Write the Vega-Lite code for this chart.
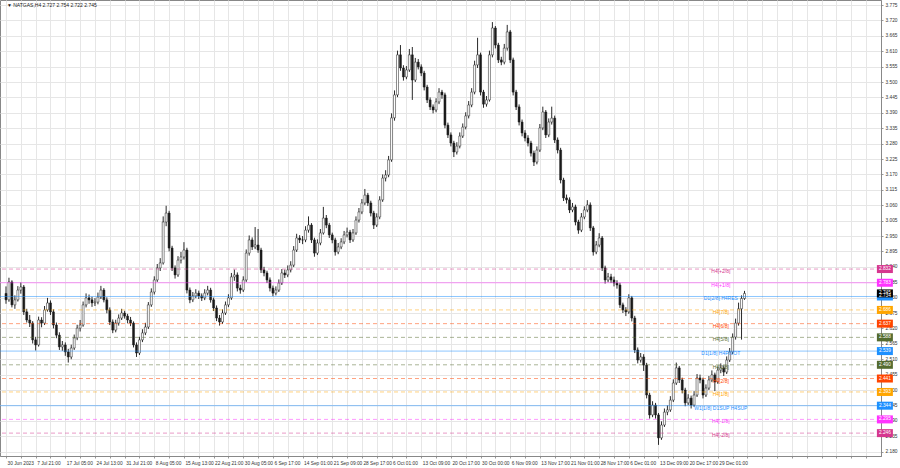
{
"$schema":"https://vega.github.io/schema/vega-lite/v6.json",
"width":881,"height":456,
"autosize":{"type":"none"},
"padding":{"left":0,"top":0,"right":19,"bottom":12},
"background":"#ffffff",
"config":{"view":{"stroke":"#888888","strokeWidth":1},"font":"Liberation Sans",
"axis":{"grid":true,"gridColor":"#e6e6e6","gridWidth":1,"labelFontSize":4.8,"labelColor":"#333333","labelFont":"Liberation Sans","labelOverlap":false,"labelFlush":false,"labelBound":false,"tickSize":2,"tickColor":"#999999","domainColor":"#888888","title":null}},
"datasets":{
"candles":[
{"i":0,"o":2.745,"h":2.770,"l":2.708,"c":2.722},
{"i":1,"o":2.722,"h":2.801,"l":2.715,"c":2.786},
{"i":2,"o":2.786,"h":2.792,"l":2.695,"c":2.704},
{"i":3,"o":2.704,"h":2.738,"l":2.690,"c":2.722},
{"i":4,"o":2.722,"h":2.771,"l":2.716,"c":2.757},
{"i":5,"o":2.757,"h":2.784,"l":2.744,"c":2.768},
{"i":6,"o":2.768,"h":2.775,"l":2.668,"c":2.679},
{"i":7,"o":2.679,"h":2.690,"l":2.641,"c":2.650},
{"i":8,"o":2.650,"h":2.668,"l":2.625,"c":2.639},
{"i":9,"o":2.639,"h":2.646,"l":2.566,"c":2.579},
{"i":10,"o":2.579,"h":2.590,"l":2.541,"c":2.561},
{"i":11,"o":2.561,"h":2.662,"l":2.555,"c":2.650},
{"i":12,"o":2.650,"h":2.660,"l":2.624,"c":2.639},
{"i":13,"o":2.639,"h":2.700,"l":2.632,"c":2.686},
{"i":14,"o":2.686,"h":2.729,"l":2.680,"c":2.711},
{"i":15,"o":2.711,"h":2.720,"l":2.668,"c":2.679},
{"i":16,"o":2.679,"h":2.688,"l":2.620,"c":2.632},
{"i":17,"o":2.632,"h":2.641,"l":2.585,"c":2.596},
{"i":18,"o":2.596,"h":2.606,"l":2.543,"c":2.554},
{"i":19,"o":2.554,"h":2.575,"l":2.540,"c":2.561},
{"i":20,"o":2.561,"h":2.570,"l":2.522,"c":2.536},
{"i":21,"o":2.536,"h":2.547,"l":2.498,"c":2.518},
{"i":22,"o":2.518,"h":2.562,"l":2.510,"c":2.550},
{"i":23,"o":2.550,"h":2.598,"l":2.543,"c":2.586},
{"i":24,"o":2.586,"h":2.633,"l":2.578,"c":2.621},
{"i":25,"o":2.621,"h":2.650,"l":2.609,"c":2.632},
{"i":26,"o":2.632,"h":2.716,"l":2.626,"c":2.704},
{"i":27,"o":2.704,"h":2.745,"l":2.695,"c":2.729},
{"i":28,"o":2.729,"h":2.741,"l":2.708,"c":2.722},
{"i":29,"o":2.722,"h":2.733,"l":2.697,"c":2.711},
{"i":30,"o":2.711,"h":2.728,"l":2.700,"c":2.714},
{"i":31,"o":2.714,"h":2.748,"l":2.706,"c":2.732},
{"i":32,"o":2.732,"h":2.772,"l":2.725,"c":2.757},
{"i":33,"o":2.757,"h":2.764,"l":2.713,"c":2.722},
{"i":34,"o":2.722,"h":2.731,"l":2.674,"c":2.686},
{"i":35,"o":2.686,"h":2.695,"l":2.632,"c":2.643},
{"i":36,"o":2.643,"h":2.652,"l":2.603,"c":2.614},
{"i":37,"o":2.614,"h":2.651,"l":2.606,"c":2.639},
{"i":38,"o":2.639,"h":2.670,"l":2.630,"c":2.657},
{"i":39,"o":2.657,"h":2.690,"l":2.650,"c":2.675},
{"i":40,"o":2.675,"h":2.683,"l":2.655,"c":2.664},
{"i":41,"o":2.664,"h":2.672,"l":2.638,"c":2.650},
{"i":42,"o":2.650,"h":2.661,"l":2.628,"c":2.639},
{"i":43,"o":2.639,"h":2.645,"l":2.552,"c":2.561},
{"i":44,"o":2.561,"h":2.570,"l":2.518,"c":2.532},
{"i":45,"o":2.532,"h":2.590,"l":2.525,"c":2.579},
{"i":46,"o":2.579,"h":2.617,"l":2.571,"c":2.604},
{"i":47,"o":2.604,"h":2.640,"l":2.596,"c":2.625},
{"i":48,"o":2.625,"h":2.714,"l":2.618,"c":2.704},
{"i":49,"o":2.704,"h":2.763,"l":2.697,"c":2.750},
{"i":50,"o":2.750,"h":2.806,"l":2.741,"c":2.793},
{"i":51,"o":2.793,"h":2.850,"l":2.786,"c":2.836},
{"i":52,"o":2.836,"h":2.871,"l":2.825,"c":2.854},
{"i":53,"o":2.854,"h":3.020,"l":2.848,"c":3.000},
{"i":54,"o":3.000,"h":3.058,"l":2.985,"c":3.032},
{"i":55,"o":3.032,"h":3.040,"l":2.895,"c":2.907},
{"i":56,"o":2.907,"h":2.915,"l":2.825,"c":2.836},
{"i":57,"o":2.836,"h":2.845,"l":2.798,"c":2.811},
{"i":58,"o":2.811,"h":2.878,"l":2.804,"c":2.864},
{"i":59,"o":2.864,"h":2.893,"l":2.852,"c":2.875},
{"i":60,"o":2.875,"h":2.928,"l":2.866,"c":2.900},
{"i":61,"o":2.900,"h":2.908,"l":2.745,"c":2.757},
{"i":62,"o":2.757,"h":2.766,"l":2.710,"c":2.722},
{"i":63,"o":2.722,"h":2.750,"l":2.714,"c":2.736},
{"i":64,"o":2.736,"h":2.760,"l":2.728,"c":2.746},
{"i":65,"o":2.746,"h":2.755,"l":2.725,"c":2.736},
{"i":66,"o":2.736,"h":2.745,"l":2.718,"c":2.729},
{"i":67,"o":2.729,"h":2.760,"l":2.721,"c":2.746},
{"i":68,"o":2.746,"h":2.772,"l":2.738,"c":2.757},
{"i":69,"o":2.757,"h":2.765,"l":2.712,"c":2.722},
{"i":70,"o":2.722,"h":2.730,"l":2.682,"c":2.693},
{"i":71,"o":2.693,"h":2.702,"l":2.646,"c":2.657},
{"i":72,"o":2.657,"h":2.668,"l":2.630,"c":2.643},
{"i":73,"o":2.643,"h":2.688,"l":2.636,"c":2.675},
{"i":74,"o":2.675,"h":2.716,"l":2.668,"c":2.704},
{"i":75,"o":2.704,"h":2.742,"l":2.696,"c":2.729},
{"i":76,"o":2.729,"h":2.818,"l":2.722,"c":2.804},
{"i":77,"o":2.804,"h":2.830,"l":2.790,"c":2.811},
{"i":78,"o":2.811,"h":2.820,"l":2.752,"c":2.764},
{"i":79,"o":2.764,"h":2.776,"l":2.744,"c":2.757},
{"i":80,"o":2.757,"h":2.806,"l":2.750,"c":2.793},
{"i":81,"o":2.793,"h":2.902,"l":2.786,"c":2.889},
{"i":82,"o":2.889,"h":2.952,"l":2.880,"c":2.936},
{"i":83,"o":2.936,"h":2.945,"l":2.900,"c":2.911},
{"i":84,"o":2.911,"h":2.982,"l":2.903,"c":2.918},
{"i":85,"o":2.918,"h":2.975,"l":2.890,"c":2.900},
{"i":86,"o":2.900,"h":2.908,"l":2.818,"c":2.829},
{"i":87,"o":2.829,"h":2.840,"l":2.806,"c":2.818},
{"i":88,"o":2.818,"h":2.826,"l":2.782,"c":2.793},
{"i":89,"o":2.793,"h":2.802,"l":2.752,"c":2.764},
{"i":90,"o":2.764,"h":2.773,"l":2.735,"c":2.746},
{"i":91,"o":2.746,"h":2.770,"l":2.738,"c":2.757},
{"i":92,"o":2.757,"h":2.795,"l":2.750,"c":2.782},
{"i":93,"o":2.782,"h":2.832,"l":2.775,"c":2.818},
{"i":94,"o":2.818,"h":2.830,"l":2.800,"c":2.811},
{"i":95,"o":2.811,"h":2.845,"l":2.803,"c":2.829},
{"i":96,"o":2.829,"h":2.860,"l":2.820,"c":2.846},
{"i":97,"o":2.846,"h":2.914,"l":2.839,"c":2.900},
{"i":98,"o":2.900,"h":2.958,"l":2.893,"c":2.943},
{"i":99,"o":2.943,"h":2.953,"l":2.925,"c":2.936},
{"i":100,"o":2.936,"h":2.950,"l":2.921,"c":2.936},
{"i":101,"o":2.936,"h":2.985,"l":2.928,"c":2.971},
{"i":102,"o":2.971,"h":3.020,"l":2.962,"c":2.989},
{"i":103,"o":2.989,"h":2.996,"l":2.925,"c":2.936},
{"i":104,"o":2.936,"h":2.944,"l":2.876,"c":2.889},
{"i":105,"o":2.889,"h":2.938,"l":2.882,"c":2.925},
{"i":106,"o":2.925,"h":2.975,"l":2.917,"c":2.961},
{"i":107,"o":2.961,"h":3.054,"l":2.955,"c":3.014},
{"i":108,"o":3.014,"h":3.025,"l":2.978,"c":2.989},
{"i":109,"o":2.989,"h":2.997,"l":2.943,"c":2.954},
{"i":110,"o":2.954,"h":2.962,"l":2.924,"c":2.936},
{"i":111,"o":2.936,"h":2.944,"l":2.880,"c":2.893},
{"i":112,"o":2.893,"h":2.925,"l":2.885,"c":2.911},
{"i":113,"o":2.911,"h":2.942,"l":2.903,"c":2.929},
{"i":114,"o":2.929,"h":2.968,"l":2.921,"c":2.954},
{"i":115,"o":2.954,"h":2.980,"l":2.945,"c":2.964},
{"i":116,"o":2.964,"h":2.972,"l":2.925,"c":2.936},
{"i":117,"o":2.936,"h":2.975,"l":2.929,"c":2.961},
{"i":118,"o":2.961,"h":3.020,"l":2.954,"c":3.007},
{"i":119,"o":3.007,"h":3.050,"l":2.998,"c":3.036},
{"i":120,"o":3.036,"h":3.082,"l":3.028,"c":3.068},
{"i":121,"o":3.068,"h":3.118,"l":3.060,"c":3.096},
{"i":122,"o":3.096,"h":3.104,"l":3.057,"c":3.068},
{"i":123,"o":3.068,"h":3.076,"l":3.020,"c":3.032},
{"i":124,"o":3.032,"h":3.040,"l":2.975,"c":2.989},
{"i":125,"o":2.989,"h":3.031,"l":2.982,"c":3.018},
{"i":126,"o":3.018,"h":3.092,"l":3.010,"c":3.079},
{"i":127,"o":3.079,"h":3.170,"l":3.072,"c":3.157},
{"i":128,"o":3.157,"h":3.185,"l":3.145,"c":3.168},
{"i":129,"o":3.168,"h":3.236,"l":3.160,"c":3.222},
{"i":130,"o":3.222,"h":3.388,"l":3.215,"c":3.372},
{"i":131,"o":3.372,"h":3.470,"l":3.362,"c":3.454},
{"i":132,"o":3.454,"h":3.612,"l":3.446,"c":3.597},
{"i":133,"o":3.597,"h":3.632,"l":3.540,"c":3.550},
{"i":134,"o":3.550,"h":3.560,"l":3.505,"c":3.518},
{"i":135,"o":3.518,"h":3.557,"l":3.510,"c":3.543},
{"i":136,"o":3.543,"h":3.618,"l":3.536,"c":3.597},
{"i":137,"o":3.597,"h":3.625,"l":3.436,"c":3.507},
{"i":138,"o":3.507,"h":3.586,"l":3.500,"c":3.571},
{"i":139,"o":3.571,"h":3.582,"l":3.545,"c":3.554},
{"i":140,"o":3.554,"h":3.563,"l":3.521,"c":3.532},
{"i":141,"o":3.532,"h":3.540,"l":3.470,"c":3.482},
{"i":142,"o":3.482,"h":3.490,"l":3.425,"c":3.436},
{"i":143,"o":3.436,"h":3.445,"l":3.400,"c":3.411},
{"i":144,"o":3.411,"h":3.420,"l":3.388,"c":3.400},
{"i":145,"o":3.400,"h":3.442,"l":3.392,"c":3.429},
{"i":146,"o":3.429,"h":3.478,"l":3.421,"c":3.464},
{"i":147,"o":3.464,"h":3.472,"l":3.440,"c":3.454},
{"i":148,"o":3.454,"h":3.462,"l":3.335,"c":3.346},
{"i":149,"o":3.346,"h":3.355,"l":3.300,"c":3.311},
{"i":150,"o":3.311,"h":3.320,"l":3.270,"c":3.282},
{"i":151,"o":3.282,"h":3.290,"l":3.232,"c":3.250},
{"i":152,"o":3.250,"h":3.285,"l":3.241,"c":3.271},
{"i":153,"o":3.271,"h":3.320,"l":3.263,"c":3.307},
{"i":154,"o":3.307,"h":3.352,"l":3.300,"c":3.339},
{"i":155,"o":3.339,"h":3.392,"l":3.331,"c":3.379},
{"i":156,"o":3.379,"h":3.432,"l":3.370,"c":3.418},
{"i":157,"o":3.418,"h":3.478,"l":3.410,"c":3.464},
{"i":158,"o":3.464,"h":3.576,"l":3.456,"c":3.561},
{"i":159,"o":3.561,"h":3.658,"l":3.550,"c":3.597},
{"i":160,"o":3.597,"h":3.605,"l":3.452,"c":3.464},
{"i":161,"o":3.464,"h":3.472,"l":3.408,"c":3.421},
{"i":162,"o":3.421,"h":3.450,"l":3.412,"c":3.436},
{"i":163,"o":3.436,"h":3.612,"l":3.430,"c":3.597},
{"i":164,"o":3.597,"h":3.714,"l":3.588,"c":3.693},
{"i":165,"o":3.693,"h":3.700,"l":3.620,"c":3.632},
{"i":166,"o":3.632,"h":3.640,"l":3.568,"c":3.579},
{"i":167,"o":3.579,"h":3.590,"l":3.560,"c":3.571},
{"i":168,"o":3.571,"h":3.636,"l":3.563,"c":3.621},
{"i":169,"o":3.621,"h":3.704,"l":3.612,"c":3.679},
{"i":170,"o":3.679,"h":3.686,"l":3.568,"c":3.579},
{"i":171,"o":3.579,"h":3.587,"l":3.452,"c":3.464},
{"i":172,"o":3.464,"h":3.472,"l":3.400,"c":3.411},
{"i":173,"o":3.411,"h":3.420,"l":3.345,"c":3.357},
{"i":174,"o":3.357,"h":3.366,"l":3.306,"c":3.318},
{"i":175,"o":3.318,"h":3.328,"l":3.288,"c":3.300},
{"i":176,"o":3.300,"h":3.310,"l":3.270,"c":3.282},
{"i":177,"o":3.282,"h":3.290,"l":3.234,"c":3.246},
{"i":178,"o":3.246,"h":3.255,"l":3.200,"c":3.214},
{"i":179,"o":3.214,"h":3.270,"l":3.206,"c":3.257},
{"i":180,"o":3.257,"h":3.350,"l":3.250,"c":3.336},
{"i":181,"o":3.336,"h":3.412,"l":3.328,"c":3.393},
{"i":182,"o":3.393,"h":3.400,"l":3.300,"c":3.311},
{"i":183,"o":3.311,"h":3.370,"l":3.303,"c":3.357},
{"i":184,"o":3.357,"h":3.412,"l":3.348,"c":3.371},
{"i":185,"o":3.371,"h":3.380,"l":3.282,"c":3.293},
{"i":186,"o":3.293,"h":3.302,"l":3.245,"c":3.257},
{"i":187,"o":3.257,"h":3.265,"l":3.138,"c":3.150},
{"i":188,"o":3.150,"h":3.158,"l":3.075,"c":3.086},
{"i":189,"o":3.086,"h":3.098,"l":3.066,"c":3.079},
{"i":190,"o":3.079,"h":3.088,"l":3.032,"c":3.043},
{"i":191,"o":3.043,"h":3.068,"l":3.035,"c":3.054},
{"i":192,"o":3.054,"h":3.062,"l":2.988,"c":3.000},
{"i":193,"o":3.000,"h":3.008,"l":2.958,"c":2.971},
{"i":194,"o":2.971,"h":3.032,"l":2.964,"c":3.018},
{"i":195,"o":3.018,"h":3.056,"l":3.010,"c":3.043},
{"i":196,"o":3.043,"h":3.078,"l":3.035,"c":3.061},
{"i":197,"o":3.061,"h":3.070,"l":2.968,"c":2.979},
{"i":198,"o":2.979,"h":2.986,"l":2.880,"c":2.893},
{"i":199,"o":2.893,"h":2.932,"l":2.885,"c":2.918},
{"i":200,"o":2.918,"h":2.960,"l":2.910,"c":2.943},
{"i":201,"o":2.943,"h":2.950,"l":2.825,"c":2.836},
{"i":202,"o":2.836,"h":2.844,"l":2.780,"c":2.793},
{"i":203,"o":2.793,"h":2.818,"l":2.785,"c":2.804},
{"i":204,"o":2.804,"h":2.815,"l":2.782,"c":2.793},
{"i":205,"o":2.793,"h":2.805,"l":2.770,"c":2.782},
{"i":206,"o":2.782,"h":2.792,"l":2.762,"c":2.775},
{"i":207,"o":2.775,"h":2.783,"l":2.693,"c":2.704},
{"i":208,"o":2.704,"h":2.712,"l":2.675,"c":2.686},
{"i":209,"o":2.686,"h":2.696,"l":2.664,"c":2.679},
{"i":210,"o":2.679,"h":2.742,"l":2.672,"c":2.729},
{"i":211,"o":2.729,"h":2.736,"l":2.645,"c":2.657},
{"i":212,"o":2.657,"h":2.665,"l":2.532,"c":2.543},
{"i":213,"o":2.543,"h":2.552,"l":2.495,"c":2.507},
{"i":214,"o":2.507,"h":2.532,"l":2.498,"c":2.518},
{"i":215,"o":2.518,"h":2.528,"l":2.468,"c":2.489},
{"i":216,"o":2.489,"h":2.497,"l":2.370,"c":2.382},
{"i":217,"o":2.382,"h":2.390,"l":2.298,"c":2.311},
{"i":218,"o":2.311,"h":2.360,"l":2.303,"c":2.346},
{"i":219,"o":2.346,"h":2.354,"l":2.298,"c":2.311},
{"i":220,"o":2.311,"h":2.318,"l":2.204,"c":2.229},
{"i":221,"o":2.229,"h":2.288,"l":2.222,"c":2.275},
{"i":222,"o":2.275,"h":2.334,"l":2.268,"c":2.321},
{"i":223,"o":2.321,"h":2.345,"l":2.310,"c":2.329},
{"i":224,"o":2.329,"h":2.378,"l":2.322,"c":2.364},
{"i":225,"o":2.364,"h":2.438,"l":2.357,"c":2.425},
{"i":226,"o":2.425,"h":2.498,"l":2.418,"c":2.479},
{"i":227,"o":2.479,"h":2.486,"l":2.425,"c":2.436},
{"i":228,"o":2.436,"h":2.444,"l":2.388,"c":2.400},
{"i":229,"o":2.400,"h":2.408,"l":2.342,"c":2.354},
{"i":230,"o":2.354,"h":2.385,"l":2.346,"c":2.371},
{"i":231,"o":2.371,"h":2.380,"l":2.334,"c":2.346},
{"i":232,"o":2.346,"h":2.396,"l":2.340,"c":2.382},
{"i":233,"o":2.382,"h":2.457,"l":2.375,"c":2.443},
{"i":234,"o":2.443,"h":2.455,"l":2.424,"c":2.436},
{"i":235,"o":2.436,"h":2.444,"l":2.370,"c":2.382},
{"i":236,"o":2.382,"h":2.420,"l":2.375,"c":2.407},
{"i":237,"o":2.407,"h":2.450,"l":2.400,"c":2.436},
{"i":238,"o":2.436,"h":2.470,"l":2.428,"c":2.454},
{"i":239,"o":2.454,"h":2.462,"l":2.396,"c":2.429},
{"i":240,"o":2.429,"h":2.484,"l":2.422,"c":2.471},
{"i":241,"o":2.471,"h":2.495,"l":2.460,"c":2.479},
{"i":242,"o":2.479,"h":2.488,"l":2.450,"c":2.464},
{"i":243,"o":2.464,"h":2.520,"l":2.457,"c":2.507},
{"i":244,"o":2.507,"h":2.550,"l":2.500,"c":2.536},
{"i":245,"o":2.536,"h":2.602,"l":2.528,"c":2.589},
{"i":246,"o":2.589,"h":2.655,"l":2.580,"c":2.639},
{"i":247,"o":2.639,"h":2.712,"l":2.630,"c":2.690},
{"i":248,"o":2.690,"h":2.738,"l":2.580,"c":2.727},
{"i":249,"o":2.727,"h":2.754,"l":2.722,"c":2.745}
],
"levels":[
{"price":2.832,"name":"H4[+2/8]","kind":"m2","line":"dash"},
{"price":2.783,"name":"H4[+1/8]","kind":"m1","line":"solid"},
{"price":2.734,"name":"D1[2/8] H4RES","kind":"blue","line":"solid"},
{"price":2.686,"name":"H4[7/8]","kind":"orange","line":"dash"},
{"price":2.637,"name":"H4[6/8]","kind":"red","line":"dash"},
{"price":2.588,"name":"H4[5/8]","kind":"olive","line":"dash"},
{"price":2.539,"name":"D1[1/8] H4PIVOT","kind":"blue","line":"solid"},
{"price":2.490,"name":"H4[3/8]","kind":"olive","line":"dash"},
{"price":2.441,"name":"H4[2/8]","kind":"red","line":"dash"},
{"price":2.393,"name":"H4[1/8]","kind":"orange","line":"dash"},
{"price":2.344,"name":"W1[1/8] D1SUP H4SUP","kind":"blue","line":"solid"},
{"price":2.295,"name":"H4[-1/8]","kind":"m1","line":"dash"},
{"price":2.246,"name":"H4[-2/8]","kind":"m2","line":"dash"}
],
"tags":[
{"price":2.832,"kind":"m2"},
{"price":2.783,"kind":"m1"},
{"price":2.734,"kind":"blue"},
{"price":2.686,"kind":"orange"},
{"price":2.637,"kind":"red"},
{"price":2.588,"kind":"olive"},
{"price":2.539,"kind":"blue"},
{"price":2.490,"kind":"olive"},
{"price":2.441,"kind":"red"},
{"price":2.393,"kind":"orange"},
{"price":2.344,"kind":"blue"},
{"price":2.295,"kind":"m1"},
{"price":2.246,"kind":"m2"},
{"price":2.745,"kind":"price"}
],
"head":[{"t":"▼  NATGAS,H4  2.727 2.754 2.722 2.745"}]
},
"layer":[
{
"data":{"name":"candles"},
"mark":{"type":"rule","color":"#2a2a2a","strokeWidth":1},
"encoding":{
"x":{"field":"i","type":"quantitative","title":null,
"scale":{"domain":[-0.3333,293.3333],"nice":false,"zero":false},
"axis":{"orient":"bottom","tickCount":1000,"values":[0,5,10,15,20,25,30,35,40,45,50,55,60,65,70,75,80,85,90,95,100,105,110,115,120,125,130,135,140,145,150,155,160,165,170,175,180,185,190,195,200,205,210,215,220,225,230,235,240,245,250,255,260,265,270,275,280,285,290],
"labelExpr":"(datum.value % 10 == 0 && datum.value <= 240) ? ['30 Jun 2023','7 Jul 21:00','17 Jul 05:00','24 Jul 13:00','31 Jul 21:00','8 Aug 05:00','15 Aug 13:00','22 Aug 21:00','30 Aug 05:00','6 Sep 17:00','14 Sep 01:00','21 Sep 09:00','28 Sep 17:00','6 Oct 01:00','13 Oct 09:00','20 Oct 17:00','30 Oct 00:00','6 Nov 09:00','13 Nov 17:00','21 Nov 01:00','28 Nov 17:00','6 Dec 01:00','13 Dec 09:00','20 Dec 17:00','29 Dec 01:00'][datum.value/10] : ''",
"labelAlign":"left","labelBaseline":"top","labelOffset":1,"labelPadding":2}},
"y":{"field":"l","type":"quantitative","title":null,
"scale":{"domain":[2.1643,3.7929],"nice":false,"zero":false},
"axis":{"orient":"right","tickCount":1000,"values":[2.18,2.235,2.29,2.345,2.4,2.455,2.51,2.565,2.62,2.675,2.73,2.785,2.84,2.895,2.95,3.005,3.06,3.115,3.17,3.225,3.28,3.335,3.39,3.445,3.5,3.555,3.61,3.665,3.72,3.775],
"format":".3f","labelPadding":2}},
"y2":{"field":"h"}
}
},
{
"data":{"name":"candles"},
"mark":{"type":"bar","width":2,"stroke":"#1a1a1a","strokeWidth":0.5},
"encoding":{
"x":{"field":"i","type":"quantitative","title":null,"scale":{"domain":[-0.3333,293.3333],"nice":false,"zero":false}},
"y":{"field":"o","type":"quantitative","title":null,"scale":{"domain":[2.1643,3.7929],"nice":false,"zero":false}},
"y2":{"field":"c"},
"fill":{"condition":{"test":"datum.c >= datum.o","value":"#ffffff"},"value":"#1a1a1a"}
}
},
{
"data":{"name":"levels"},
"mark":{"type":"rule","strokeWidth":1,"opacity":0.5},
"encoding":{
"y":{"field":"price","type":"quantitative","title":null,"scale":{"domain":[2.1643,3.7929],"nice":false,"zero":false}},
"color":{"field":"kind","type":"nominal","legend":null,"scale":{"domain":["m2","m1","blue","orange","red","olive","price"],"range":["#d6378f","#ff33ff","#1e90ff","#ffa500","#ff4500","#556b2f","#000000"]}},
"strokeDash":{"field":"line","type":"nominal","legend":null,"scale":{"domain":["solid","dash"],"range":[[1,0],[4,3]]}}
}
},
{
"data":{"name":"levels"},
"mark":{"type":"text","align":"center","baseline":"middle","dy":2,"fontSize":5,"font":"Liberation Sans"},
"encoding":{
"x":{"datum":241,"type":"quantitative","title":null,"scale":{"domain":[-0.3333,293.3333],"nice":false,"zero":false}},
"y":{"field":"price","type":"quantitative","title":null,"scale":{"domain":[2.1643,3.7929],"nice":false,"zero":false}},
"text":{"field":"name"},
"color":{"field":"kind","type":"nominal","legend":null}
}
},
{
"data":{"name":"tags"},
"mark":{"type":"tick","orient":"horizontal","size":16,"thickness":8,"opacity":1},
"encoding":{
"x":{"datum":296.33,"type":"quantitative","title":null,"scale":{"domain":[-0.3333,293.3333],"nice":false,"zero":false}},
"y":{"field":"price","type":"quantitative","title":null,"scale":{"domain":[2.1643,3.7929],"nice":false,"zero":false}},
"color":{"field":"kind","type":"nominal","legend":null}
}
},
{
"data":{"name":"tags"},
"mark":{"type":"text","align":"center","baseline":"middle","fontSize":4.8,"font":"Liberation Sans","color":"#ffffff"},
"encoding":{
"x":{"datum":296.33,"type":"quantitative","title":null,"scale":{"domain":[-0.3333,293.3333],"nice":false,"zero":false}},
"y":{"field":"price","type":"quantitative","title":null,"scale":{"domain":[2.1643,3.7929],"nice":false,"zero":false}},
"text":{"field":"price","format":".3f"}
}
},
{
"data":{"name":"head"},
"mark":{"type":"text","align":"left","baseline":"middle","fontSize":5,"font":"Liberation Sans","color":"#222222"},
"encoding":{
"x":{"datum":0.3,"type":"quantitative","title":null,"scale":{"domain":[-0.3333,293.3333],"nice":false,"zero":false}},
"y":{"datum":3.776,"type":"quantitative","title":null,"scale":{"domain":[2.1643,3.7929],"nice":false,"zero":false}},
"text":{"field":"t"}
}
}
]
}
